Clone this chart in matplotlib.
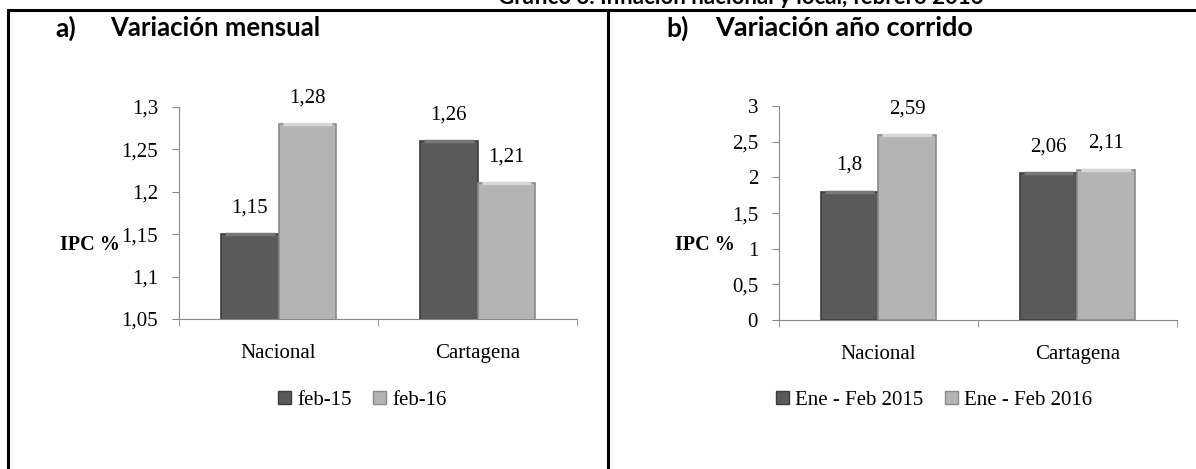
import matplotlib.pyplot as plt
from matplotlib.patches import Patch
from matplotlib.lines import Line2D
import numpy as np

categorias = ['Nacional', 'Cartagena']

mensual_15 = [1.15, 1.26]
mensual_16 = [1.28, 1.21]
mensual_labels = ['feb-15', 'feb-16']
mensual_ticks = [1.05, 1.1, 1.15, 1.2, 1.25, 1.3]

corrido_15 = [1.8, 2.06]
corrido_16 = [2.59, 2.11]
corrido_labels = ['Ene - Feb 2015', 'Ene - Feb 2016']
corrido_ticks = [0, 0.5, 1, 1.5, 2, 2.5, 3]

serif = 'Liberation Serif'
dark, dark_edge = '#5a5a5a', '#3c3c3c'
light, light_edge = '#b4b4b4', '#8a8a8a'


def fmt(v):
    s = ('%.2f' % v).rstrip('0').rstrip('.')
    return s.replace('.', ',')


def panel(ax, s1, s2, ticks):
    x = np.arange(len(categorias))
    w = 0.29
    b1 = ax.bar(x - w / 2, s1, w, color=dark, edgecolor=dark_edge, linewidth=1.2, zorder=3)
    b2 = ax.bar(x + w / 2, s2, w, color=light, edgecolor=light_edge, linewidth=1.2, zorder=3)
    # bevel highlight on top of each bar
    for bars, hl in ((b1, '#777777'), (b2, '#d6d6d6')):
        for r in bars:
            ax.plot([r.get_x() + 0.02, r.get_x() + r.get_width() - 0.02],
                    [r.get_height()] * 2, color=hl, lw=2.5, zorder=4,
                    solid_capstyle='butt')
    for bars, vals in ((b1, s1), (b2, s2)):
        for r, v in zip(bars, vals):
            ax.annotate(fmt(v), (r.get_x() + r.get_width() / 2, v),
                        xytext=(0, 12), textcoords='offset points',
                        ha='center', va='bottom', fontsize=15, family=serif)
    ax.set_xlim(-0.5, 1.5)
    ax.set_ylim(ticks[0], ticks[-1])
    ax.set_yticks(ticks)
    ax.set_yticklabels([fmt(t) for t in ticks], family=serif, fontsize=15)
    ax.set_xticks(x)
    ax.set_xticklabels(categorias, family=serif, fontsize=15)
    ax.tick_params(axis='x', length=0, pad=18)
    ax.set_xticks([-0.5, 0.5, 1.5], minor=True)
    ax.tick_params(axis='x', which='minor', length=5, color='#888888')
    ax.tick_params(axis='y', length=5, color='#888888', pad=10)
    for s in ('top', 'right'):
        ax.spines[s].set_visible(False)
    for s in ('left', 'bottom'):
        ax.spines[s].set_color('#888888')


fig = plt.figure(figsize=(11.96, 4.69), dpi=100)

ax1 = fig.add_axes([0.1497, 0.3198, 0.3328, 0.452])
panel(ax1, mensual_15, mensual_16, mensual_ticks)
ax2 = fig.add_axes([0.6513, 0.3177, 0.3328, 0.456])
panel(ax2, corrido_15, corrido_16, corrido_ticks)

for labels, cx in ((mensual_labels, 0.303), (corrido_labels, 0.781)):
    handles = [Patch(facecolor=dark, edgecolor=dark_edge),
               Patch(facecolor=light, edgecolor=light_edge)]
    fig.legend(handles, labels, loc='center', bbox_to_anchor=(cx, 0.147),
               ncol=2, frameon=False, handlelength=0.6, handleheight=0.6,
               handletextpad=0.3, columnspacing=1.05,
               prop={'family': serif, 'size': 15})

fig.text(0.050, 0.478, 'IPC %', family=serif, weight='bold', fontsize=14.5, va='center')
fig.text(0.564, 0.478, 'IPC %', family=serif, weight='bold', fontsize=14.5, va='center')

fig.text(0.0465, 0.94, 'a)', family='Lato', weight='bold', fontsize=19, va='center')
fig.text(0.092, 0.94, 'Variación mensual', family='Lato', weight='bold',
         fontsize=18.5, va='center')
fig.text(0.557, 0.94, 'b)', family='Lato', weight='bold', fontsize=19, va='center')
fig.text(0.598, 0.94, 'Variación año corrido', family='Lato', weight='bold',
         fontsize=19.5, va='center')

fig.text(0.619, 1 - 4 / 469, 'Gráfico 3. Inflación nacional y local, febrero 2016',
         family='Lato', weight='bold', fontsize=16, ha='center', va='baseline')

# table frame
fig.add_artist(Line2D([0.0067, 1.0], [0.9787, 0.9787], color='black', lw=2.2))
fig.add_artist(Line2D([0.0067, 0.0067], [0.0, 0.9787], color='black', lw=2.2))
fig.add_artist(Line2D([0.5084, 0.5084], [0.0, 0.9787], color='black', lw=2.2))

fig.savefig('out.png', dpi=100)
